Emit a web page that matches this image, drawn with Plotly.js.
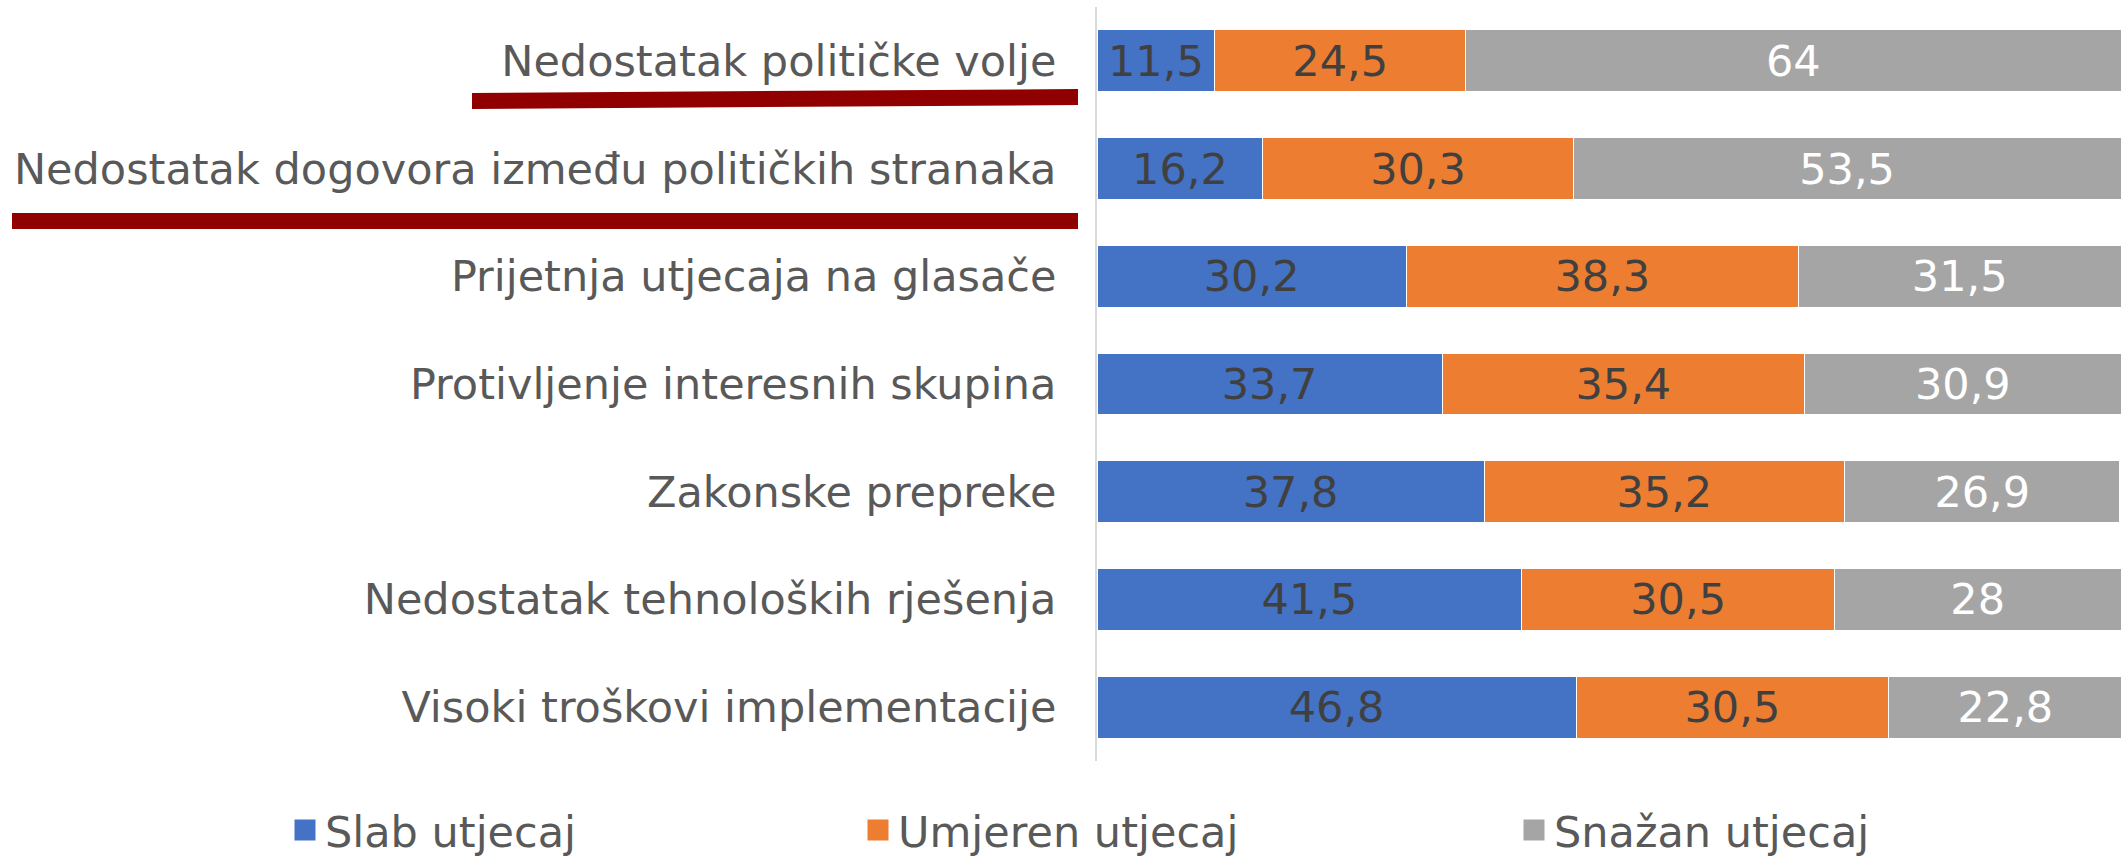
<!DOCTYPE html>
<html>
<head>
<meta charset="utf-8">
<script src="https://cdn.plot.ly/plotly-3.0.1.min.js"></script>
<style>html,body{margin:0;padding:0;background:#fff;}#chart{width:2124px;height:858px;}</style>
</head>
<body>
<div id="chart"></div>
<script>
const categories = [
  "Nedostatak političke volje",
  "Nedostatak dogovora između političkih stranaka",
  "Prijetnja utjecaja na glasače",
  "Protivljenje interesnih skupina",
  "Zakonske prepreke",
  "Nedostatak tehnoloških rješenja",
  "Visoki troškovi implementacije"
];
const seriesNames = ["Slab utjecaj", "Umjeren utjecaj", "Snažan utjecaj"];
const slab    = [11.5, 16.2, 30.2, 33.7, 37.8, 41.5, 46.8];
const umjeren = [24.5, 30.3, 38.3, 35.4, 35.2, 30.5, 30.5];
const snazan  = [64, 53.5, 31.5, 30.9, 26.9, 28, 22.8];

const colors = ["#4472C4", "#ED7D31", "#A5A5A5"];
const textColors = ["#404040", "#404040", "#FFFFFF"];
const FONT = "DejaVu Sans, Verdana, sans-serif";
const FS = 43;
const fmt = v => String(v).replace('.', ',');

const allSeries = [slab, umjeren, snazan];
const legendIds = ["legend", "legend2", "legend3"];
const barTraces = allSeries.map((vals, i) => ({
  type: 'bar',
  orientation: 'h',
  name: seriesNames[i],
  y: categories,
  x: vals,
  text: vals.map(fmt),
  textposition: 'inside',
  insidetextanchor: 'middle',
  constraintext: 'none',
  textfont: {family: FONT, size: FS, color: textColors[i]},
  marker: {color: colors[i], line: {color: '#FFFFFF', width: 1}},
  showlegend: false,
  hoverinfo: 'x+y'
}));
// legend entries (larger square swatches, like the original legend keys)
const legendTraces = seriesNames.map((n, i) => ({
  type: 'scatter', mode: 'markers', name: n,
  x: [null], y: [null],
  marker: {symbol: 'square', size: 22, color: colors[i], line: {color: colors[i], width: 6}},
  legend: legendIds[i], showlegend: true, hoverinfo: 'skip'
}));

const legBase = {
  orientation: 'h', yref: 'container', yanchor: 'middle', xanchor: 'left', y: 1 - 830 / 858,
  font: {family: FONT, size: FS, color: '#595959'},
  bgcolor: 'rgba(0,0,0,0)', itemwidth: 30, itemsizing: 'trace'
};

// plot area: x 1097..2121 (1024px), y 7..761 (754px)
const px = p => (p - 1097) / 1024;
const py = p => (761 - p) / 754;

const layout = {
  width: 2124, height: 858,
  margin: {l: 1097, r: 3, t: 7, b: 97, autoexpand: false},
  paper_bgcolor: '#FFFFFF', plot_bgcolor: '#FFFFFF',
  barmode: 'stack',
  bargap: 0.425,
  separators: ',.',
  font: {family: FONT, size: FS, color: '#595959'},
  xaxis: {range: [0, 100], visible: false, showgrid: false, zeroline: false, fixedrange: true},
  yaxis: {
    type: 'category', autorange: 'reversed',
    showline: true, linecolor: '#D9D9D9', linewidth: 2,
    showgrid: false, zeroline: false, ticks: '',
    ticklabelstandoff: 30,
    tickfont: {family: FONT, size: FS, color: '#595959'}
  },
  legend:  Object.assign({}, legBase, {x: px(285)}),
  legend2: Object.assign({}, legBase, {x: px(858)}),
  legend3: Object.assign({}, legBase, {x: px(1514)}),
  shapes: [
    {type: 'path', xref: 'paper', yref: 'paper',
     path: `M${px(472)},${py(93)} L${px(1078)},${py(89)} L${px(1078)},${py(105)} L${px(472)},${py(109)} Z`,
     fillcolor: '#900000', line: {width: 0}},
    {type: 'path', xref: 'paper', yref: 'paper',
     path: `M${px(12)},${py(213)} L${px(1078)},${py(213)} L${px(1078)},${py(229)} L${px(12)},${py(229)} Z`,
     fillcolor: '#900000', line: {width: 0}}
  ],
  showlegend: true
};

Plotly.newPlot('chart', barTraces.concat(legendTraces), layout, {displayModeBar: false, staticPlot: true});
</script>
</body>
</html>
